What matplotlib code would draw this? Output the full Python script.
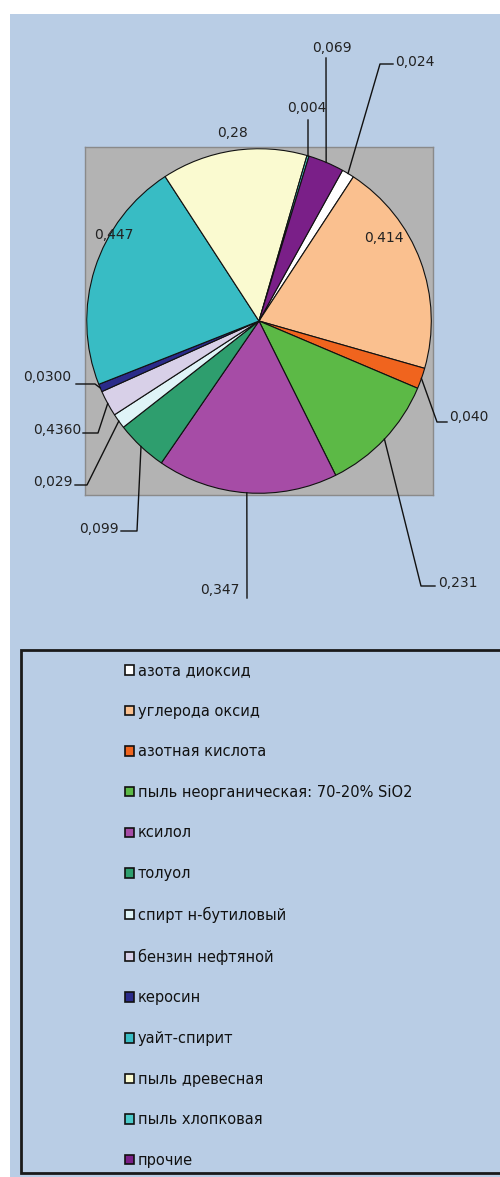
import matplotlib
matplotlib.use("Agg")
import matplotlib.pyplot as plt
from matplotlib.patches import Rectangle
from matplotlib.lines import Line2D
import numpy as np

# ---------------- data ----------------
categories = ["азота диоксид", "углерода оксид", "азотная кислота",
              "пыль неорганическая: 70-20% SiO2", "ксилол", "толуол",
              "спирт н-бутиловый", "бензин нефтяной", "керосин",
              "уайт-спирит", "пыль древесная", "пыль хлопковая", "прочие"]
values = [0.024, 0.414, 0.040, 0.231, 0.347, 0.099, 0.029, 0.050, 0.015,
          0.447, 0.28, 0.004, 0.069]
value_labels = ["0,024", "0,414", "0,040", "0,231", "0,347", "0,099", "0,029",
                "0,4360", "0,0300", "0,447", "0,28", "0,004", "0,069"]
colors = ["#ffffff", "#fac08f", "#f0641e", "#5cb946", "#a64ca6", "#2e9e6e",
          "#dff4f7", "#d8d0e8", "#2b2b8a", "#38bcc4", "#fafad0", "#4ccaca",
          "#7a1f88"]

W, H = 500, 1177
fig = plt.figure(figsize=(W / 100, H / 100), dpi=100)
fig.patch.set_facecolor("white")
BG = "#b9cde5"


def fx(x):
    return x / W


def fy(y):
    return 1 - y / H


# chart background
fig.patches.append(Rectangle((fx(10), 0), 1, fy(14), transform=fig.transFigure,
                             facecolor=BG, edgecolor="none", zorder=0))
# legend frame
fig.patches.append(Rectangle((fx(21), fy(1173)), 1.2, fy(650) - fy(1173),
                             transform=fig.transFigure, facecolor=BG,
                             edgecolor="#1a1a1a", linewidth=2, zorder=1))

# pie axes (square box = grey plot area)
left, right, top, bottom = 85, 433, 147, 495
ax = fig.add_axes([fx(left), fy(bottom), fx(right - left), fy(top) - fy(bottom)])
ax.set_zorder(3)
wedges, _ = ax.pie(values, colors=colors, startangle=61, counterclock=False,
                   radius=1.0,
                   wedgeprops=dict(edgecolor="#111111", linewidth=0.8))
ax.set_xlim(-1.01, 1.01)
ax.set_ylim(-1.01, 1.01)
ax.set_frame_on(True)
ax.set_facecolor("#b3b3b3")
for s in ax.spines.values():
    s.set_color("#8a8a8a")
    s.set_linewidth(1.0)
ax.set_xticks([])
ax.set_yticks([])

# ---------------- labels (layout in pixel positions) ----------------
# (x, y, ha, leader points after anchor)
label_layout = [
    (395, 62, "left", [(380, 64), (393, 64)]),
    (384, 238, "center", None),
    (449, 417, "left", [(437, 422), (447, 422)]),
    (438, 583, "left", [(421, 586), (435, 586)]),
    (220, 590, "center", [(247, 598)]),
    (119, 529, "right", [(137, 531), (121, 531)]),
    (73, 482, "right", [(87, 485), (75, 485)]),
    (81, 430, "right", [(98, 433), (83, 433)]),
    (71, 377, "right", [(95, 384), (76, 384)]),
    (114, 235, "center", None),
    (233, 133, "center", None),
    (307, 108, "center", [(308, 120)]),
    (332, 48, "center", [(326, 58)]),
]

to_fig = fig.transFigure.inverted()
for w, lab, (x, y, ha, pts) in zip(wedges, value_labels, label_layout):
    fig.text(fx(x), fy(y), lab, ha=ha, va="center", fontsize=10,
             color="#222222", family="DejaVu Sans", zorder=5)
    if pts:
        mid = np.deg2rad((w.theta1 + w.theta2) / 2)
        anchor = to_fig.transform(ax.transData.transform((np.cos(mid) * w.r, np.sin(mid) * w.r)))
        xs = [anchor[0]] + [fx(p[0]) for p in pts]
        ys = [anchor[1]] + [fy(p[1]) for p in pts]
        fig.lines.append(Line2D(xs, ys, transform=fig.transFigure,
                                color="#111111", linewidth=1.0, zorder=4))

# ---------------- legend ----------------
leg = fig.legend(wedges, categories, loc="upper left",
                 bbox_to_anchor=(fx(125), fy(663)), frameon=False,
                 fontsize=10.5, handlelength=0.62, handleheight=0.62,
                 handletextpad=0.25, labelspacing=1.757, borderpad=0,
                 borderaxespad=0)
for t in leg.get_texts():
    t.set_color("#111111")
for h in leg.legend_handles:
    h.set_edgecolor("#111111")
    h.set_linewidth(1.2)
leg.set_zorder(6)

fig.savefig("out.png", dpi=100, facecolor=fig.get_facecolor())
